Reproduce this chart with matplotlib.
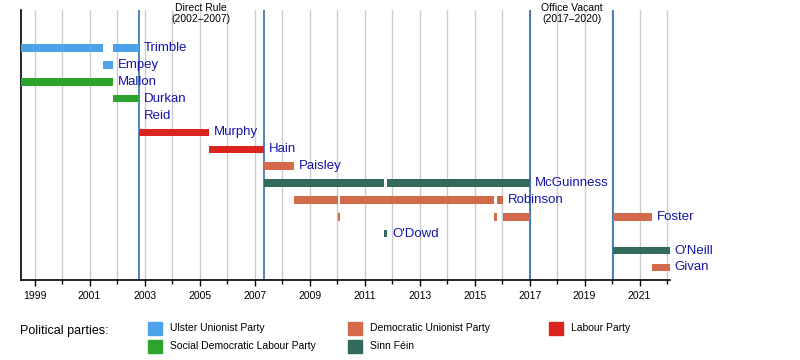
import datetime
import matplotlib
matplotlib.use("Agg")
import matplotlib.pyplot as plt
from matplotlib.patches import Rectangle
from matplotlib.transforms import blended_transform_factory

plt.rcParams["font.family"] = ["Liberation Sans", "DejaVu Sans"]

# one row per office holder, top to bottom
names = ["Trimble", "Empey", "Mallon", "Durkan", "Reid", "Murphy", "Hain",
         "Paisley", "McGuinness", "Robinson", "Foster", "O'Dowd", "O'Neill", "Givan"]

# terms: row name, party, start, end
seg_name = ["Trimble", "Trimble", "Empey", "Mallon", "Durkan", "Reid", "Murphy", "Hain",
            "Paisley", "McGuinness", "McGuinness", "Robinson", "Robinson", "Robinson",
            "Foster", "Foster", "Foster", "Foster", "O'Dowd", "O'Neill", "Givan"]
seg_party = ["UUP", "UUP", "UUP", "SDLP", "SDLP", "Lab", "Lab", "Lab",
             "DUP", "SF", "SF", "DUP", "DUP", "DUP",
             "DUP", "DUP", "DUP", "DUP", "SF", "SF", "DUP"]
seg_start = ["1998-07-01", "2001-11-06", "2001-07-01", "1998-07-01", "2001-11-06",
             "2002-10-14", "2002-10-24", "2005-05-06", "2007-05-08", "2007-05-08",
             "2011-10-31", "2008-06-05", "2010-02-03", "2015-10-20", "2010-01-11",
             "2015-09-10", "2016-01-11", "2020-01-11", "2011-09-20", "2020-01-11",
             "2021-06-17"]
seg_end = ["2001-07-01", "2002-10-14", "2001-11-06", "2001-11-06", "2002-10-14",
           "2002-10-24", "2005-05-06", "2007-05-08", "2008-06-05", "2011-09-20",
           "2017-01-09", "2010-01-11", "2015-09-10", "2016-01-11", "2010-02-03",
           "2015-10-20", "2017-01-09", "2021-06-14", "2011-10-31", "2022-02-03",
           "2022-02-03"]

# periods without an executive
gap_labels = ["Direct Rule\n(2002\u20132007)", "Office Vacant\n(2017\u20132020)"]
gap_start = ["2002-10-14", "2017-01-09"]
gap_end = ["2007-05-08", "2020-01-11"]

party_keys = ["UUP", "DUP", "Lab", "SDLP", "SF"]
party_names = ["Ulster Unionist Party", "Democratic Unionist Party", "Labour Party",
               "Social Democratic Labour Party", "Sinn F\u00e9in"]
party_colors = ["#4ca3ea", "#d46a4c", "#dc241f", "#2ba52d", "#326b5e"]
colors = dict(zip(party_keys, party_colors))


def year_frac(s):
    d = datetime.date.fromisoformat(s)
    y0 = datetime.date(d.year, 1, 1)
    y1 = datetime.date(d.year + 1, 1, 1)
    return d.year + (d - y0).days / (y1 - y0).days


fig = plt.figure(figsize=(8, 3.6), dpi=100)
ax = fig.add_axes([0.026, 0.222, 0.812, 0.75])

rows = {n: i for i, n in enumerate(names)}
last_end = {}
for n, p, s, e in zip(seg_name, seg_party, seg_start, seg_end):
    x0, x1 = year_frac(s), year_frac(e)
    ax.barh(rows[n], x1 - x0, left=x0, height=0.45, color=colors[p], zorder=3)
    last_end[n] = max(last_end.get(n, 0), x1)

for n in names:
    ax.annotate(n, (last_end[n], rows[n]), xytext=(3.5, 0), textcoords="offset points",
                va="center", ha="left", fontsize=9.5, color="#1414a8", zorder=4)

trans = blended_transform_factory(ax.transData, fig.transFigure)
for lab, s, e in zip(gap_labels, gap_start, gap_end):
    x0, x1 = year_frac(s), year_frac(e)
    ax.axvline(x0, color="#1f63a8", lw=1.1, zorder=2)
    ax.axvline(x1, color="#1f63a8", lw=1.1, zorder=2)
    ax.text((x0 + x1) / 2, 0.993, lab, transform=trans, ha="center", va="top",
            fontsize=7.5, linespacing=1.2)

ax.set_xlim(1998.5, 2022.12)
ax.set_ylim(13.75, -2.25)
ax.set_xticks(range(1999, 2023, 2))
ax.set_xticks(range(2000, 2023, 2), minor=True)
ax.set_yticks([])
ax.tick_params(axis="x", which="major", labelsize=7.5, length=4, width=1, pad=4)
ax.tick_params(axis="x", which="minor", length=3, width=1)
ax.grid(axis="x", which="both", color="#cccccc", lw=1, zorder=0)
ax.set_axisbelow(True)
for side in ["top", "right"]:
    ax.spines[side].set_visible(False)
for side in ["left", "bottom"]:
    ax.spines[side].set_linewidth(1.2)

# party key along the bottom
fig.text(20 / 800, 1 - 331 / 360, "Political parties:", fontsize=9, va="center")
key_x = [148, 348, 549, 148, 348]
key_y = [328, 328, 328, 346, 346]
key_order = ["UUP", "DUP", "Lab", "SDLP", "SF"]
for k, px, py in zip(key_order, key_x, key_y):
    i = party_keys.index(k)
    fig.add_artist(Rectangle((px / 800, 1 - (py + 6.5) / 360), 14 / 800, 13 / 360,
                             transform=fig.transFigure, color=party_colors[i]))
    fig.text((px + 22) / 800, 1 - py / 360, party_names[i], fontsize=7.5, va="center",
             family=["Liberation Sans Narrow", "Liberation Sans", "DejaVu Sans"])

fig.savefig("out.png", dpi=100)
